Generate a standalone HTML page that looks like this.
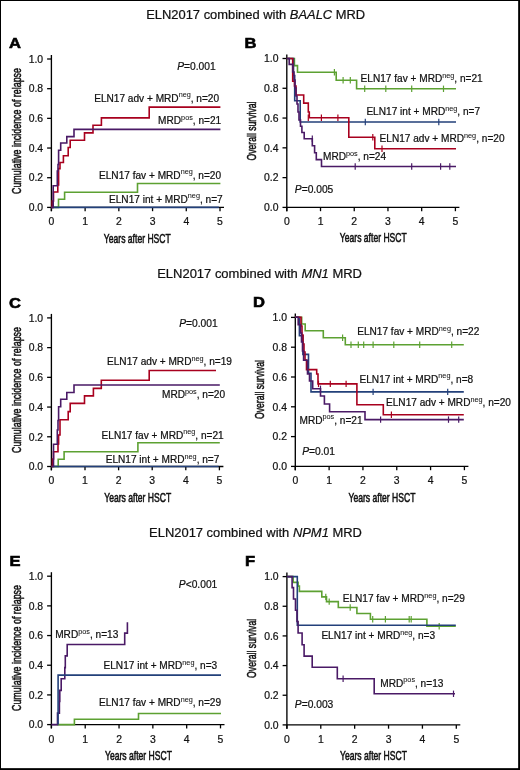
<!DOCTYPE html>
<html><head><meta charset="utf-8"><style>
html,body{margin:0;padding:0;background:#fff;}
body{width:520px;height:770px;overflow:hidden;}
svg{display:block;will-change:transform;}
svg text{font-family:"Liberation Sans", sans-serif;fill:#111;stroke:#111;stroke-width:0.22px;}
svg text.cd{stroke:#111;stroke-width:0.55px;}
svg tspan.sp{stroke-width:0.05px;}
svg text.lt{fill:#000;stroke:#000;stroke-width:0.6px;}
</style></head><body>
<svg width="520" height="770" viewBox="0 0 520 770">
<rect x="0" y="0" width="520" height="770" fill="#fff"/>
<rect x="0.5" y="0.5" width="518.5" height="768.5" fill="none" stroke="#000" stroke-width="1"/>
<rect x="518.3" y="0" width="1.7" height="770" fill="#000"/>
<rect x="0" y="768.3" width="520" height="1.7" fill="#000"/>
<text x="146.2" y="18.8" font-size="12.5" textLength="219" lengthAdjust="spacingAndGlyphs">ELN2017 combined with <tspan font-style="italic">BAALC</tspan> MRD</text>
<text x="157.2" y="277.7" font-size="12.5" textLength="204.8" lengthAdjust="spacingAndGlyphs">ELN2017 combined with <tspan font-style="italic">MN1</tspan> MRD</text>
<text x="149.1" y="536.5" font-size="12.5" textLength="212.8" lengthAdjust="spacingAndGlyphs">ELN2017 combined with <tspan font-style="italic">NPM1</tspan> MRD</text>
<text transform="translate(9.0,48.2) scale(1.09,1)" x="0" y="0" font-size="15.2" font-weight="bold" class="lt">A</text>
<text transform="translate(244.6,47.8) scale(1.09,1)" x="0" y="0" font-size="15.2" font-weight="bold" class="lt">B</text>
<text transform="translate(9.1,308) scale(1.09,1)" x="0" y="0" font-size="15.2" font-weight="bold" class="lt">C</text>
<text transform="translate(252.9,307) scale(1.09,1)" x="0" y="0" font-size="15.2" font-weight="bold" class="lt">D</text>
<text transform="translate(9.6,565.6) scale(1.09,1)" x="0" y="0" font-size="15.2" font-weight="bold" class="lt">E</text>
<text transform="translate(245,565.7) scale(1.09,1)" x="0" y="0" font-size="15.2" font-weight="bold" class="lt">F</text>
<line x1="51.4" y1="55.0" x2="51.4" y2="211.20000000000002" stroke="#000" stroke-width="1.35"/>
<line x1="51.4" y1="207.4" x2="224.0" y2="207.4" stroke="#000" stroke-width="1.35"/>
<line x1="47.1" y1="207.40" x2="51.4" y2="207.40" stroke="#000" stroke-width="1.3"/>
<text x="43.099999999999994" y="211.15" font-size="10.4" text-anchor="end">0.0</text>
<line x1="47.1" y1="177.72" x2="51.4" y2="177.72" stroke="#000" stroke-width="1.3"/>
<text x="43.099999999999994" y="181.47" font-size="10.4" text-anchor="end">0.2</text>
<line x1="47.1" y1="148.04" x2="51.4" y2="148.04" stroke="#000" stroke-width="1.3"/>
<text x="43.099999999999994" y="151.79" font-size="10.4" text-anchor="end">0.4</text>
<line x1="47.1" y1="118.36" x2="51.4" y2="118.36" stroke="#000" stroke-width="1.3"/>
<text x="43.099999999999994" y="122.11" font-size="10.4" text-anchor="end">0.6</text>
<line x1="47.1" y1="88.68" x2="51.4" y2="88.68" stroke="#000" stroke-width="1.3"/>
<text x="43.099999999999994" y="92.43" font-size="10.4" text-anchor="end">0.8</text>
<line x1="47.1" y1="59.00" x2="51.4" y2="59.00" stroke="#000" stroke-width="1.3"/>
<text x="43.099999999999994" y="62.75" font-size="10.4" text-anchor="end">1.0</text>
<line x1="51.40" y1="207.4" x2="51.40" y2="211.20000000000002" stroke="#000" stroke-width="1.3"/>
<text x="51.40" y="225.30" font-size="10.4" text-anchor="middle">0</text>
<line x1="85.12" y1="207.4" x2="85.12" y2="211.20000000000002" stroke="#000" stroke-width="1.3"/>
<text x="85.12" y="225.30" font-size="10.4" text-anchor="middle">1</text>
<line x1="118.84" y1="207.4" x2="118.84" y2="211.20000000000002" stroke="#000" stroke-width="1.3"/>
<text x="118.84" y="225.30" font-size="10.4" text-anchor="middle">2</text>
<line x1="152.56" y1="207.4" x2="152.56" y2="211.20000000000002" stroke="#000" stroke-width="1.3"/>
<text x="152.56" y="225.30" font-size="10.4" text-anchor="middle">3</text>
<line x1="186.28" y1="207.4" x2="186.28" y2="211.20000000000002" stroke="#000" stroke-width="1.3"/>
<text x="186.28" y="225.30" font-size="10.4" text-anchor="middle">4</text>
<line x1="220.00" y1="207.4" x2="220.00" y2="211.20000000000002" stroke="#000" stroke-width="1.3"/>
<text x="220.00" y="225.30" font-size="10.4" text-anchor="middle">5</text>
<text transform="translate(21.0,131) rotate(-90)" x="0" y="0" font-size="13" text-anchor="middle" textLength="126" lengthAdjust="spacingAndGlyphs" class="cd">Cumulative incidence of relapse</text>
<text x="137.3" y="242.6" font-size="12.3" text-anchor="middle" textLength="67" lengthAdjust="spacingAndGlyphs" class="cd">Years after HSCT</text>
<path d="M51.4,207.4 H58.5 V199.3 H64.6 V192.3 H137.5 V183.5 H220.4" fill="none" stroke="#5da132" stroke-width="1.6"/>
<path d="M51.4,207.4 H218.9" fill="none" stroke="#23407a" stroke-width="1.6"/>
<path d="M51.4,207.4 H52.2 V201 H53.5 V192 H57.8 V185 H58.6 V168.6 H60 V162.5 H63.4 V155.7 H68.2 V147.5 H70.2 V140.3 H84.5 V132.9 H93 V125.3 H101.4 V117.9 H149.2 V107.1 H220.4" fill="none" stroke="#a8001e" stroke-width="1.6"/>
<path d="M51.4,207.4 H53.2 V185.7 H57.3 V171 H58 V164.5 H58.6 V150.2 H60.7 V143 H66.8 V136.6 H74 V129.4 H220.4" fill="none" stroke="#4a1a66" stroke-width="1.6"/>
<text x="177.2" y="69.5" font-size="10.25" text-anchor="start" ><tspan font-style="italic">P</tspan>=0.001</text>
<text x="94.2" y="101.5" font-size="10.1">ELN17 adv + MRD<tspan font-size="7.27" dy="-4.3" class="sp">neg</tspan><tspan dy="4.3">, n=20</tspan></text>
<text x="158.1" y="124.4" font-size="10.1">MRD<tspan font-size="7.27" dy="-4.3" class="sp">pos</tspan><tspan dy="4.3">, n=21</tspan></text>
<text x="99" y="178.7" font-size="10.1">ELN17 fav + MRD<tspan font-size="7.27" dy="-4.3" class="sp">neg</tspan><tspan dy="4.3">, n=20</tspan></text>
<text x="109" y="202.5" font-size="10.1">ELN17 int + MRD<tspan font-size="7.27" dy="-4.3" class="sp">neg</tspan><tspan dy="4.3">, n=7</tspan></text>
<line x1="286.8" y1="54.5" x2="286.8" y2="211.20000000000002" stroke="#000" stroke-width="1.35"/>
<line x1="286.8" y1="207.4" x2="459.4" y2="207.4" stroke="#000" stroke-width="1.35"/>
<line x1="282.5" y1="207.40" x2="286.8" y2="207.40" stroke="#000" stroke-width="1.3"/>
<text x="278.5" y="211.15" font-size="10.4" text-anchor="end">0.0</text>
<line x1="282.5" y1="177.62" x2="286.8" y2="177.62" stroke="#000" stroke-width="1.3"/>
<text x="278.5" y="181.37" font-size="10.4" text-anchor="end">0.2</text>
<line x1="282.5" y1="147.84" x2="286.8" y2="147.84" stroke="#000" stroke-width="1.3"/>
<text x="278.5" y="151.59" font-size="10.4" text-anchor="end">0.4</text>
<line x1="282.5" y1="118.06" x2="286.8" y2="118.06" stroke="#000" stroke-width="1.3"/>
<text x="278.5" y="121.81" font-size="10.4" text-anchor="end">0.6</text>
<line x1="282.5" y1="88.28" x2="286.8" y2="88.28" stroke="#000" stroke-width="1.3"/>
<text x="278.5" y="92.03" font-size="10.4" text-anchor="end">0.8</text>
<line x1="282.5" y1="58.50" x2="286.8" y2="58.50" stroke="#000" stroke-width="1.3"/>
<text x="278.5" y="62.25" font-size="10.4" text-anchor="end">1.0</text>
<line x1="286.80" y1="207.4" x2="286.80" y2="211.20000000000002" stroke="#000" stroke-width="1.3"/>
<text x="286.80" y="225.30" font-size="10.4" text-anchor="middle">0</text>
<line x1="320.52" y1="207.4" x2="320.52" y2="211.20000000000002" stroke="#000" stroke-width="1.3"/>
<text x="320.52" y="225.30" font-size="10.4" text-anchor="middle">1</text>
<line x1="354.24" y1="207.4" x2="354.24" y2="211.20000000000002" stroke="#000" stroke-width="1.3"/>
<text x="354.24" y="225.30" font-size="10.4" text-anchor="middle">2</text>
<line x1="387.96" y1="207.4" x2="387.96" y2="211.20000000000002" stroke="#000" stroke-width="1.3"/>
<text x="387.96" y="225.30" font-size="10.4" text-anchor="middle">3</text>
<line x1="421.68" y1="207.4" x2="421.68" y2="211.20000000000002" stroke="#000" stroke-width="1.3"/>
<text x="421.68" y="225.30" font-size="10.4" text-anchor="middle">4</text>
<line x1="455.40" y1="207.4" x2="455.40" y2="211.20000000000002" stroke="#000" stroke-width="1.3"/>
<text x="455.40" y="225.30" font-size="10.4" text-anchor="middle">5</text>
<text transform="translate(256.1,131) rotate(-90)" x="0" y="0" font-size="13" text-anchor="middle" textLength="59" lengthAdjust="spacingAndGlyphs" class="cd">Overall survival</text>
<text x="373.3" y="242.4" font-size="12.3" text-anchor="middle" textLength="67" lengthAdjust="spacingAndGlyphs" class="cd">Years after HSCT</text>
<path d="M286.8,58.5 H294.4 V65.6 H297.5 V72.2 H336.2 V80.2 H356.6 V88.8 H456" fill="none" stroke="#5da132" stroke-width="1.6"/>
<line x1="334.4" y1="69.0" x2="334.4" y2="75.4" stroke="#5da132" stroke-width="1.2"/>
<line x1="343.1" y1="77.0" x2="343.1" y2="83.4" stroke="#5da132" stroke-width="1.2"/>
<line x1="350.3" y1="77.0" x2="350.3" y2="83.4" stroke="#5da132" stroke-width="1.2"/>
<line x1="364.7" y1="85.6" x2="364.7" y2="92.0" stroke="#5da132" stroke-width="1.2"/>
<line x1="385.8" y1="85.6" x2="385.8" y2="92.0" stroke="#5da132" stroke-width="1.2"/>
<line x1="411.7" y1="85.6" x2="411.7" y2="92.0" stroke="#5da132" stroke-width="1.2"/>
<line x1="443.5" y1="85.6" x2="443.5" y2="92.0" stroke="#5da132" stroke-width="1.2"/>
<path d="M286.8,58.5 H293.5 V75.5 H294.7 V100.8 H300.2 V122 H456" fill="none" stroke="#23407a" stroke-width="1.6"/>
<line x1="365.3" y1="118.8" x2="365.3" y2="125.2" stroke="#23407a" stroke-width="1.2"/>
<line x1="438.8" y1="118.8" x2="438.8" y2="125.2" stroke="#23407a" stroke-width="1.2"/>
<path d="M286.8,58.5 H292.7 V81.2 H294.5 V86 H296 V95 H303.7 V103.1 H308.3 V112 H309.3 V117.7 H348.8 V137.3 H374.8 V148.8 H456" fill="none" stroke="#a8001e" stroke-width="1.6"/>
<line x1="308.3" y1="114.5" x2="308.3" y2="120.9" stroke="#a8001e" stroke-width="1.2"/>
<line x1="321.4" y1="114.5" x2="321.4" y2="120.9" stroke="#a8001e" stroke-width="1.2"/>
<line x1="337.9" y1="114.5" x2="337.9" y2="120.9" stroke="#a8001e" stroke-width="1.2"/>
<line x1="372.8" y1="134.10000000000002" x2="372.8" y2="140.5" stroke="#a8001e" stroke-width="1.2"/>
<line x1="382" y1="145.60000000000002" x2="382" y2="152.0" stroke="#a8001e" stroke-width="1.2"/>
<path d="M286.8,58.5 H289.2 V64.4 H292.7 V72 H294 V80 H295 V88 H296 V96 H297 V104 H298 V112 H299 V120 H300.5 V126.2 H301.9 V132.5 H304.2 V138.8 H312.3 V145.8 H314.6 V152.7 H316.3 V159.6 H321.5 V166.5 H456" fill="none" stroke="#4a1a66" stroke-width="1.6"/>
<line x1="312.3" y1="135.60000000000002" x2="312.3" y2="142.0" stroke="#4a1a66" stroke-width="1.2"/>
<line x1="355.2" y1="163.3" x2="355.2" y2="169.7" stroke="#4a1a66" stroke-width="1.2"/>
<line x1="411.7" y1="163.3" x2="411.7" y2="169.7" stroke="#4a1a66" stroke-width="1.2"/>
<line x1="440.6" y1="163.3" x2="440.6" y2="169.7" stroke="#4a1a66" stroke-width="1.2"/>
<line x1="449.8" y1="163.3" x2="449.8" y2="169.7" stroke="#4a1a66" stroke-width="1.2"/>
<text x="360.6" y="82.1" font-size="10.1">ELN17 fav + MRD<tspan font-size="7.27" dy="-4.3" class="sp">neg</tspan><tspan dy="4.3">, n=21</tspan></text>
<text x="366.4" y="115.2" font-size="10.1">ELN17 int + MRD<tspan font-size="7.27" dy="-4.3" class="sp">neg</tspan><tspan dy="4.3">, n=7</tspan></text>
<text x="379.6" y="142.3" font-size="10.1">ELN17 adv + MRD<tspan font-size="7.27" dy="-4.3" class="sp">neg</tspan><tspan dy="4.3">, n=20</tspan></text>
<text x="323" y="160.1" font-size="10.1">MRD<tspan font-size="7.27" dy="-4.3" class="sp">pos</tspan><tspan dy="4.3">, n=24</tspan></text>
<text x="294.8" y="193" font-size="10.25" text-anchor="start" ><tspan font-style="italic">P</tspan>=0.005</text>
<line x1="51.4" y1="313.9" x2="51.4" y2="470.3" stroke="#000" stroke-width="1.35"/>
<line x1="51.4" y1="466.5" x2="223.4" y2="466.5" stroke="#000" stroke-width="1.35"/>
<line x1="47.1" y1="466.50" x2="51.4" y2="466.50" stroke="#000" stroke-width="1.3"/>
<text x="43.099999999999994" y="470.25" font-size="10.4" text-anchor="end">0.0</text>
<line x1="47.1" y1="436.78" x2="51.4" y2="436.78" stroke="#000" stroke-width="1.3"/>
<text x="43.099999999999994" y="440.53" font-size="10.4" text-anchor="end">0.2</text>
<line x1="47.1" y1="407.06" x2="51.4" y2="407.06" stroke="#000" stroke-width="1.3"/>
<text x="43.099999999999994" y="410.81" font-size="10.4" text-anchor="end">0.4</text>
<line x1="47.1" y1="377.34" x2="51.4" y2="377.34" stroke="#000" stroke-width="1.3"/>
<text x="43.099999999999994" y="381.09" font-size="10.4" text-anchor="end">0.6</text>
<line x1="47.1" y1="347.62" x2="51.4" y2="347.62" stroke="#000" stroke-width="1.3"/>
<text x="43.099999999999994" y="351.37" font-size="10.4" text-anchor="end">0.8</text>
<line x1="47.1" y1="317.90" x2="51.4" y2="317.90" stroke="#000" stroke-width="1.3"/>
<text x="43.099999999999994" y="321.65" font-size="10.4" text-anchor="end">1.0</text>
<line x1="51.40" y1="466.5" x2="51.40" y2="470.3" stroke="#000" stroke-width="1.3"/>
<text x="51.40" y="484.40" font-size="10.4" text-anchor="middle">0</text>
<line x1="85.00" y1="466.5" x2="85.00" y2="470.3" stroke="#000" stroke-width="1.3"/>
<text x="85.00" y="484.40" font-size="10.4" text-anchor="middle">1</text>
<line x1="118.60" y1="466.5" x2="118.60" y2="470.3" stroke="#000" stroke-width="1.3"/>
<text x="118.60" y="484.40" font-size="10.4" text-anchor="middle">2</text>
<line x1="152.20" y1="466.5" x2="152.20" y2="470.3" stroke="#000" stroke-width="1.3"/>
<text x="152.20" y="484.40" font-size="10.4" text-anchor="middle">3</text>
<line x1="185.80" y1="466.5" x2="185.80" y2="470.3" stroke="#000" stroke-width="1.3"/>
<text x="185.80" y="484.40" font-size="10.4" text-anchor="middle">4</text>
<line x1="219.40" y1="466.5" x2="219.40" y2="470.3" stroke="#000" stroke-width="1.3"/>
<text x="219.40" y="484.40" font-size="10.4" text-anchor="middle">5</text>
<text transform="translate(21.0,390) rotate(-90)" x="0" y="0" font-size="13" text-anchor="middle" textLength="126" lengthAdjust="spacingAndGlyphs" class="cd">Cumulative incidence of relapse</text>
<text x="137.7" y="501.8" font-size="12.3" text-anchor="middle" textLength="67" lengthAdjust="spacingAndGlyphs" class="cd">Years after HSCT</text>
<path d="M51.4,466.5 H58.2 V459.3 H64.1 V451.8 H137.9 V442.7 H219.8" fill="none" stroke="#5da132" stroke-width="1.6"/>
<path d="M51.4,466.5 H218.6" fill="none" stroke="#23407a" stroke-width="1.6"/>
<path d="M51.4,466.5 H52.5 V459 H53.5 V451.8 H58 V444 H58.6 V435 H60 V419.8 H68.2 V411.6 H70.2 V403.4 H84.5 V395.9 H93.4 V388.4 H101.3 V380.2 H149.2 V370.5 H216" fill="none" stroke="#a8001e" stroke-width="1.6"/>
<path d="M51.4,466.5 H53.5 V444.3 H57.3 V430 H58 V420.5 H58.6 V406.8 H60.7 V399.3 H66.8 V392.5 H74 V385 H219.8" fill="none" stroke="#4a1a66" stroke-width="1.6"/>
<text x="179.2" y="327.2" font-size="10.25" text-anchor="start" ><tspan font-style="italic">P</tspan>=0.001</text>
<text x="107" y="365.4" font-size="10.1">ELN17 adv + MRD<tspan font-size="7.27" dy="-4.3" class="sp">neg</tspan><tspan dy="4.3">, n=19</tspan></text>
<text x="162" y="398.2" font-size="10.1">MRD<tspan font-size="7.27" dy="-4.3" class="sp">pos</tspan><tspan dy="4.3">, n=20</tspan></text>
<text x="101.6" y="438.7" font-size="10.1">ELN17 fav + MRD<tspan font-size="7.27" dy="-4.3" class="sp">neg</tspan><tspan dy="4.3">, n=21</tspan></text>
<text x="105.7" y="462.9" font-size="10.1">ELN17 int + MRD<tspan font-size="7.27" dy="-4.3" class="sp">neg</tspan><tspan dy="4.3">, n=7</tspan></text>
<line x1="295.3" y1="313.4" x2="295.3" y2="470.2" stroke="#000" stroke-width="1.35"/>
<line x1="295.3" y1="466.4" x2="468.4" y2="466.4" stroke="#000" stroke-width="1.35"/>
<line x1="291.0" y1="466.40" x2="295.3" y2="466.40" stroke="#000" stroke-width="1.3"/>
<text x="287.0" y="470.15" font-size="10.4" text-anchor="end">0.0</text>
<line x1="291.0" y1="436.60" x2="295.3" y2="436.60" stroke="#000" stroke-width="1.3"/>
<text x="287.0" y="440.35" font-size="10.4" text-anchor="end">0.2</text>
<line x1="291.0" y1="406.80" x2="295.3" y2="406.80" stroke="#000" stroke-width="1.3"/>
<text x="287.0" y="410.55" font-size="10.4" text-anchor="end">0.4</text>
<line x1="291.0" y1="377.00" x2="295.3" y2="377.00" stroke="#000" stroke-width="1.3"/>
<text x="287.0" y="380.75" font-size="10.4" text-anchor="end">0.6</text>
<line x1="291.0" y1="347.20" x2="295.3" y2="347.20" stroke="#000" stroke-width="1.3"/>
<text x="287.0" y="350.95" font-size="10.4" text-anchor="end">0.8</text>
<line x1="291.0" y1="317.40" x2="295.3" y2="317.40" stroke="#000" stroke-width="1.3"/>
<text x="287.0" y="321.15" font-size="10.4" text-anchor="end">1.0</text>
<line x1="295.30" y1="466.4" x2="295.30" y2="470.2" stroke="#000" stroke-width="1.3"/>
<text x="295.30" y="484.30" font-size="10.4" text-anchor="middle">0</text>
<line x1="329.12" y1="466.4" x2="329.12" y2="470.2" stroke="#000" stroke-width="1.3"/>
<text x="329.12" y="484.30" font-size="10.4" text-anchor="middle">1</text>
<line x1="362.94" y1="466.4" x2="362.94" y2="470.2" stroke="#000" stroke-width="1.3"/>
<text x="362.94" y="484.30" font-size="10.4" text-anchor="middle">2</text>
<line x1="396.76" y1="466.4" x2="396.76" y2="470.2" stroke="#000" stroke-width="1.3"/>
<text x="396.76" y="484.30" font-size="10.4" text-anchor="middle">3</text>
<line x1="430.58" y1="466.4" x2="430.58" y2="470.2" stroke="#000" stroke-width="1.3"/>
<text x="430.58" y="484.30" font-size="10.4" text-anchor="middle">4</text>
<line x1="464.40" y1="466.4" x2="464.40" y2="470.2" stroke="#000" stroke-width="1.3"/>
<text x="464.40" y="484.30" font-size="10.4" text-anchor="middle">5</text>
<text transform="translate(264.3,389.5) rotate(-90)" x="0" y="0" font-size="13" text-anchor="middle" textLength="59" lengthAdjust="spacingAndGlyphs" class="cd">Overall survival</text>
<text x="382" y="501.5" font-size="12.3" text-anchor="middle" textLength="67" lengthAdjust="spacingAndGlyphs" class="cd">Years after HSCT</text>
<path d="M295.4,317.3 H301.7 V324 H305.2 V330.8 H323.3 V337.7 H345.3 V344.8 H463.8" fill="none" stroke="#5da132" stroke-width="1.6"/>
<line x1="342.6" y1="334.5" x2="342.6" y2="340.9" stroke="#5da132" stroke-width="1.2"/>
<line x1="351" y1="341.6" x2="351" y2="348.0" stroke="#5da132" stroke-width="1.2"/>
<line x1="358.3" y1="341.6" x2="358.3" y2="348.0" stroke="#5da132" stroke-width="1.2"/>
<line x1="363.7" y1="341.6" x2="363.7" y2="348.0" stroke="#5da132" stroke-width="1.2"/>
<line x1="373.1" y1="341.6" x2="373.1" y2="348.0" stroke="#5da132" stroke-width="1.2"/>
<line x1="393.8" y1="341.6" x2="393.8" y2="348.0" stroke="#5da132" stroke-width="1.2"/>
<line x1="419.7" y1="341.6" x2="419.7" y2="348.0" stroke="#5da132" stroke-width="1.2"/>
<line x1="451.7" y1="341.6" x2="451.7" y2="348.0" stroke="#5da132" stroke-width="1.2"/>
<path d="M295.4,317.3 H299.4 V335.7 H302.9 V354.4 H308.5 V373.2 H311 V391.9 H463.8" fill="none" stroke="#23407a" stroke-width="1.6"/>
<line x1="373.1" y1="388.7" x2="373.1" y2="395.09999999999997" stroke="#23407a" stroke-width="1.2"/>
<line x1="447.7" y1="388.7" x2="447.7" y2="395.09999999999997" stroke="#23407a" stroke-width="1.2"/>
<path d="M295.4,317.3 H301 V326 H302 V335 H303 V344 H304 V352 H305 V360 H306.5 V369.6 H316.7 V374 H318 V383.9 H356.9 V404.8 H383.3 V414.8 H463.8" fill="none" stroke="#a8001e" stroke-width="1.6"/>
<line x1="318.5" y1="380.7" x2="318.5" y2="387.09999999999997" stroke="#a8001e" stroke-width="1.2"/>
<line x1="330.3" y1="380.7" x2="330.3" y2="387.09999999999997" stroke="#a8001e" stroke-width="1.2"/>
<line x1="346.1" y1="380.7" x2="346.1" y2="387.09999999999997" stroke="#a8001e" stroke-width="1.2"/>
<line x1="391.4" y1="411.6" x2="391.4" y2="418.0" stroke="#a8001e" stroke-width="1.2"/>
<path d="M295.4,317.3 H298.2 V324.6 H300.5 V333 H301.5 V342 H302.5 V351 H303.6 V360.3 H307.5 V374 H309.5 V381 H312.7 V388.8 H320.5 V396 H324.4 V404 H329.6 V411.8 H365 V419.6 H463.8" fill="none" stroke="#4a1a66" stroke-width="1.6"/>
<line x1="320.5" y1="385.6" x2="320.5" y2="392.0" stroke="#4a1a66" stroke-width="1.2"/>
<line x1="380.6" y1="416.40000000000003" x2="380.6" y2="422.8" stroke="#4a1a66" stroke-width="1.2"/>
<line x1="448.5" y1="416.40000000000003" x2="448.5" y2="422.8" stroke="#4a1a66" stroke-width="1.2"/>
<line x1="458.7" y1="416.40000000000003" x2="458.7" y2="422.8" stroke="#4a1a66" stroke-width="1.2"/>
<text x="357.2" y="334.8" font-size="10.1">ELN17 fav + MRD<tspan font-size="7.27" dy="-4.3" class="sp">neg</tspan><tspan dy="4.3">, n=22</tspan></text>
<text x="359.5" y="382.7" font-size="10.1">ELN17 int + MRD<tspan font-size="7.27" dy="-4.3" class="sp">neg</tspan><tspan dy="4.3">, n=8</tspan></text>
<text x="386" y="406.2" font-size="10.1">ELN17 adv + MRD<tspan font-size="7.27" dy="-4.3" class="sp">neg</tspan><tspan dy="4.3">, n=20</tspan></text>
<text x="299.5" y="423.7" font-size="10.1">MRD<tspan font-size="7.27" dy="-4.3" class="sp">pos</tspan><tspan dy="4.3">, n=21</tspan></text>
<text x="302.2" y="454.8" font-size="10.25" text-anchor="start" ><tspan font-style="italic">P</tspan>=0.01</text>
<line x1="51.4" y1="572.2" x2="51.4" y2="728.4" stroke="#000" stroke-width="1.35"/>
<line x1="51.4" y1="724.6" x2="224.5" y2="724.6" stroke="#000" stroke-width="1.35"/>
<line x1="47.1" y1="724.60" x2="51.4" y2="724.60" stroke="#000" stroke-width="1.3"/>
<text x="43.099999999999994" y="728.35" font-size="10.4" text-anchor="end">0.0</text>
<line x1="47.1" y1="694.92" x2="51.4" y2="694.92" stroke="#000" stroke-width="1.3"/>
<text x="43.099999999999994" y="698.67" font-size="10.4" text-anchor="end">0.2</text>
<line x1="47.1" y1="665.24" x2="51.4" y2="665.24" stroke="#000" stroke-width="1.3"/>
<text x="43.099999999999994" y="668.99" font-size="10.4" text-anchor="end">0.4</text>
<line x1="47.1" y1="635.56" x2="51.4" y2="635.56" stroke="#000" stroke-width="1.3"/>
<text x="43.099999999999994" y="639.31" font-size="10.4" text-anchor="end">0.6</text>
<line x1="47.1" y1="605.88" x2="51.4" y2="605.88" stroke="#000" stroke-width="1.3"/>
<text x="43.099999999999994" y="609.63" font-size="10.4" text-anchor="end">0.8</text>
<line x1="47.1" y1="576.20" x2="51.4" y2="576.20" stroke="#000" stroke-width="1.3"/>
<text x="43.099999999999994" y="579.95" font-size="10.4" text-anchor="end">1.0</text>
<line x1="51.40" y1="724.6" x2="51.40" y2="728.4" stroke="#000" stroke-width="1.3"/>
<text x="51.40" y="742.50" font-size="10.4" text-anchor="middle">0</text>
<line x1="85.22" y1="724.6" x2="85.22" y2="728.4" stroke="#000" stroke-width="1.3"/>
<text x="85.22" y="742.50" font-size="10.4" text-anchor="middle">1</text>
<line x1="119.04" y1="724.6" x2="119.04" y2="728.4" stroke="#000" stroke-width="1.3"/>
<text x="119.04" y="742.50" font-size="10.4" text-anchor="middle">2</text>
<line x1="152.86" y1="724.6" x2="152.86" y2="728.4" stroke="#000" stroke-width="1.3"/>
<text x="152.86" y="742.50" font-size="10.4" text-anchor="middle">3</text>
<line x1="186.68" y1="724.6" x2="186.68" y2="728.4" stroke="#000" stroke-width="1.3"/>
<text x="186.68" y="742.50" font-size="10.4" text-anchor="middle">4</text>
<line x1="220.50" y1="724.6" x2="220.50" y2="728.4" stroke="#000" stroke-width="1.3"/>
<text x="220.50" y="742.50" font-size="10.4" text-anchor="middle">5</text>
<text transform="translate(21.0,648) rotate(-90)" x="0" y="0" font-size="13" text-anchor="middle" textLength="126" lengthAdjust="spacingAndGlyphs" class="cd">Cumulative incidence of relapse</text>
<text x="138.5" y="759.7" font-size="12.3" text-anchor="middle" textLength="67" lengthAdjust="spacingAndGlyphs" class="cd">Years after HSCT</text>
<path d="M57.5,724.6 H74.4 V719.3 H138.5 V713.5 H221" fill="none" stroke="#5da132" stroke-width="1.6"/>
<path d="M51.4,724.6 H57.5 V713.1 H59.4 V701.4 H59.8 V690.4 H61.2 V678.8 H64.8 V667.6 H65.3 V655.9 H67.2 V644.5 H124.7 V633.1 H127.4 V622.2" fill="none" stroke="#4a1a66" stroke-width="1.6"/>
<path d="M58.1,724.6 V675.1 H221" fill="none" stroke="#23407a" stroke-width="1.6"/>
<text x="178.8" y="587.7" font-size="10.25" text-anchor="start" ><tspan font-style="italic">P</tspan>&lt;0.001</text>
<text x="55.2" y="638" font-size="10.1">MRD<tspan font-size="7.27" dy="-4.3" class="sp">pos</tspan><tspan dy="4.3">, n=13</tspan></text>
<text x="103.5" y="669" font-size="10.1">ELN17 int + MRD<tspan font-size="7.27" dy="-4.3" class="sp">neg</tspan><tspan dy="4.3">, n=3</tspan></text>
<text x="99" y="706.4" font-size="10.1">ELN17 fav + MRD<tspan font-size="7.27" dy="-4.3" class="sp">neg</tspan><tspan dy="4.3">, n=29</tspan></text>
<line x1="286.9" y1="572.6" x2="286.9" y2="728.6999999999999" stroke="#000" stroke-width="1.35"/>
<line x1="286.9" y1="724.9" x2="460.3" y2="724.9" stroke="#000" stroke-width="1.35"/>
<line x1="282.59999999999997" y1="724.90" x2="286.9" y2="724.90" stroke="#000" stroke-width="1.3"/>
<text x="278.59999999999997" y="728.65" font-size="10.4" text-anchor="end">0.0</text>
<line x1="282.59999999999997" y1="695.24" x2="286.9" y2="695.24" stroke="#000" stroke-width="1.3"/>
<text x="278.59999999999997" y="698.99" font-size="10.4" text-anchor="end">0.2</text>
<line x1="282.59999999999997" y1="665.58" x2="286.9" y2="665.58" stroke="#000" stroke-width="1.3"/>
<text x="278.59999999999997" y="669.33" font-size="10.4" text-anchor="end">0.4</text>
<line x1="282.59999999999997" y1="635.92" x2="286.9" y2="635.92" stroke="#000" stroke-width="1.3"/>
<text x="278.59999999999997" y="639.67" font-size="10.4" text-anchor="end">0.6</text>
<line x1="282.59999999999997" y1="606.26" x2="286.9" y2="606.26" stroke="#000" stroke-width="1.3"/>
<text x="278.59999999999997" y="610.01" font-size="10.4" text-anchor="end">0.8</text>
<line x1="282.59999999999997" y1="576.60" x2="286.9" y2="576.60" stroke="#000" stroke-width="1.3"/>
<text x="278.59999999999997" y="580.35" font-size="10.4" text-anchor="end">1.0</text>
<line x1="286.90" y1="724.9" x2="286.90" y2="728.6999999999999" stroke="#000" stroke-width="1.3"/>
<text x="286.90" y="742.80" font-size="10.4" text-anchor="middle">0</text>
<line x1="320.78" y1="724.9" x2="320.78" y2="728.6999999999999" stroke="#000" stroke-width="1.3"/>
<text x="320.78" y="742.80" font-size="10.4" text-anchor="middle">1</text>
<line x1="354.66" y1="724.9" x2="354.66" y2="728.6999999999999" stroke="#000" stroke-width="1.3"/>
<text x="354.66" y="742.80" font-size="10.4" text-anchor="middle">2</text>
<line x1="388.54" y1="724.9" x2="388.54" y2="728.6999999999999" stroke="#000" stroke-width="1.3"/>
<text x="388.54" y="742.80" font-size="10.4" text-anchor="middle">3</text>
<line x1="422.42" y1="724.9" x2="422.42" y2="728.6999999999999" stroke="#000" stroke-width="1.3"/>
<text x="422.42" y="742.80" font-size="10.4" text-anchor="middle">4</text>
<line x1="456.30" y1="724.9" x2="456.30" y2="728.6999999999999" stroke="#000" stroke-width="1.3"/>
<text x="456.30" y="742.80" font-size="10.4" text-anchor="middle">5</text>
<text transform="translate(256.1,648.4) rotate(-90)" x="0" y="0" font-size="13" text-anchor="middle" textLength="59" lengthAdjust="spacingAndGlyphs" class="cd">Overall survival</text>
<text x="373.5" y="760" font-size="12.3" text-anchor="middle" textLength="67" lengthAdjust="spacingAndGlyphs" class="cd">Years after HSCT</text>
<path d="M286.9,576.6 H293.2 V582.4 H298.1 V586.1 H299.4 V591.4 H321.8 V596.9 H326.5 V601.6 H338.3 V607.5 H356.9 V613.5 H370.4 V619.2 H426.9 V626.2 H455.8" fill="none" stroke="#5da132" stroke-width="1.6"/>
<line x1="325.8" y1="593.6999999999999" x2="325.8" y2="600.1" stroke="#5da132" stroke-width="1.2"/>
<line x1="329.2" y1="598.4" x2="329.2" y2="604.8000000000001" stroke="#5da132" stroke-width="1.2"/>
<line x1="350.2" y1="604.3" x2="350.2" y2="610.7" stroke="#5da132" stroke-width="1.2"/>
<line x1="372.7" y1="616.0" x2="372.7" y2="622.4000000000001" stroke="#5da132" stroke-width="1.2"/>
<line x1="385.4" y1="616.0" x2="385.4" y2="622.4000000000001" stroke="#5da132" stroke-width="1.2"/>
<line x1="409.2" y1="616.0" x2="409.2" y2="622.4000000000001" stroke="#5da132" stroke-width="1.2"/>
<line x1="411.2" y1="616.0" x2="411.2" y2="622.4000000000001" stroke="#5da132" stroke-width="1.2"/>
<line x1="439.2" y1="623.0" x2="439.2" y2="629.4000000000001" stroke="#5da132" stroke-width="1.2"/>
<path d="M286.9,576.6 H297.3 V625.3 H455.8" fill="none" stroke="#23407a" stroke-width="1.6"/>
<path d="M286.9,576.6 H292.1 V587.6 H293.5 V599 H295.5 V610.3 H297 V621.5 H298.1 V633 H302.1 V644.8 H304.1 V656.1 H312.2 V667.3 H337.3 V678.8 H374.2 V693.8 H455" fill="none" stroke="#4a1a66" stroke-width="1.6"/>
<line x1="343.1" y1="675.5999999999999" x2="343.1" y2="682.0" stroke="#4a1a66" stroke-width="1.2"/>
<line x1="453.5" y1="690.5999999999999" x2="453.5" y2="697.0" stroke="#4a1a66" stroke-width="1.2"/>
<text x="342.7" y="601.9" font-size="10.1">ELN17 fav + MRD<tspan font-size="7.27" dy="-4.3" class="sp">neg</tspan><tspan dy="4.3">, n=29</tspan></text>
<text x="321.4" y="639.3" font-size="10.1">ELN17 int + MRD<tspan font-size="7.27" dy="-4.3" class="sp">neg</tspan><tspan dy="4.3">, n=3</tspan></text>
<text x="380.3" y="686.6" font-size="10.1">MRD<tspan font-size="7.27" dy="-4.3" class="sp">pos</tspan><tspan dy="4.3">, n=13</tspan></text>
<text x="294.8" y="707.8" font-size="10.25" text-anchor="start" ><tspan font-style="italic">P</tspan>=0.003</text>
</svg>
</body></html>
